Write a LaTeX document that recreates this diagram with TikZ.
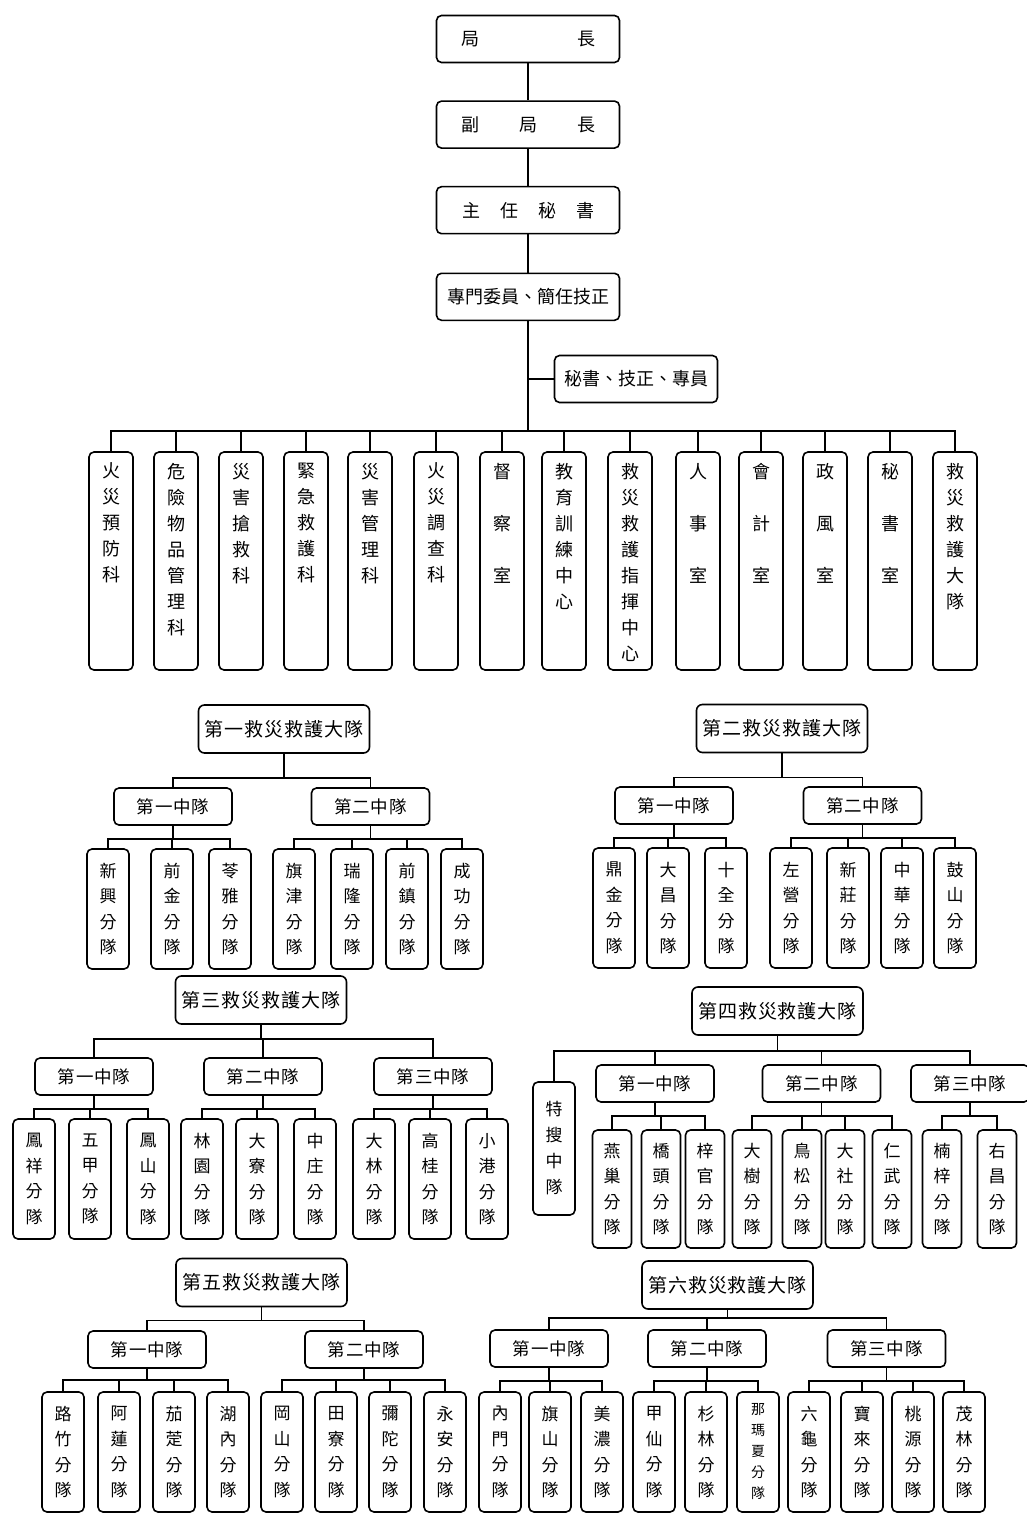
\documentclass[tikz,border=0pt]{standalone}
\usepackage{fontspec}
\setmainfont{Noto Sans CJK TC}
\newfontfamily\cjkwide[LetterSpace=5]{Noto Sans CJK TC}
\newfontfamily\cjkmid[LetterSpace=4]{Noto Sans CJK TC}
\usepackage{tikz}
\usetikzlibrary{positioning}
\newcommand{\deptcol}[1]{\parbox[c][218pt][t]{40pt}{\centering\vspace*{11pt}#1}}
\tikzset{
  headbox/.style={draw=black, line width=1.6pt, rounded corners=5pt, inner sep=0pt, minimum width=183pt, minimum height=47pt, font=\fontsize{18}{22}\selectfont},
  deptbox/.style={draw=black, line width=1.6pt, rounded corners=5pt, inner sep=0pt, minimum width=44pt, font=\fontsize{18}{26}\selectfont},
  teambox/.style={draw=black, line width=1.6pt, rounded corners=6pt, inner sep=0pt, minimum width=171pt, minimum height=48pt, font=\cjkwide\fontsize{19}{22}\selectfont},
  squadbox/.style={draw=black, line width=1.6pt, rounded corners=5pt, inner sep=0pt, minimum width=118pt, minimum height=37pt, font=\cjkmid\fontsize{17.5}{20}\selectfont},
  unitbox/.style={draw=black, line width=1.6pt, rounded corners=5pt, inner sep=0pt, minimum width=42pt, minimum height=120pt, align=center, font=\fontsize{17}{25.5}\selectfont},
  link/.style={line width=1.5pt}
}
\begin{document}
\begin{tikzpicture}[x=1pt,y=-1pt]
\useasboundingbox (0,0) rectangle (1027,1514);
% head office
\node[headbox] (chief) at (528,39) {局\hspace{98pt}長};
\node[headbox, below=37pt of chief] (deputy) {副\hspace{40pt}局\hspace{40pt}長};
\node[headbox, below=37pt of deputy] (secgen) {主\hspace{20pt}任\hspace{20pt}秘\hspace{20pt}書};
\node[headbox, below=38pt of secgen] (counsel) {專門委員、簡任技正};
\node[headbox, minimum width=163pt] (staff) at (636,379) {秘書、技正、專員};
\draw[link] (chief)--(deputy); \draw[link] (deputy)--(secgen); \draw[link] (secgen)--(counsel);
\draw[link] (staff.west) -- (staff.west -| counsel.south);
% divisions and offices
\node[deptbox] (d1) at (111,561) {\deptcol{火\\災\\預\\防\\科}};
\node[deptbox] (d2) at (176,561) {\deptcol{危\\險\\物\\品\\管\\理\\科}};
\node[deptbox] (d3) at (241,561) {\deptcol{災\\害\\搶\\救\\科}};
\node[deptbox] (d4) at (306,561) {\deptcol{緊\\急\\救\\護\\科}};
\node[deptbox] (d5) at (370,561) {\deptcol{災\\害\\管\\理\\科}};
\node[deptbox] (d6) at (436,561) {\deptcol{火\\災\\調\\查\\科}};
\node[deptbox] (d7) at (502,561) {\deptcol{督\\[26pt]察\\[26pt]室}};
\node[deptbox] (d8) at (564,561) {\deptcol{教\\育\\訓\\練\\中\\心}};
\node[deptbox] (d9) at (630,561) {\deptcol{救\\災\\救\\護\\指\\揮\\中\\心}};
\node[deptbox] (d10) at (698,561) {\deptcol{人\\[26pt]事\\[26pt]室}};
\node[deptbox] (d11) at (761,561) {\deptcol{會\\[26pt]計\\[26pt]室}};
\node[deptbox] (d12) at (825,561) {\deptcol{政\\[26pt]風\\[26pt]室}};
\node[deptbox] (d13) at (890,561) {\deptcol{秘\\[26pt]書\\[26pt]室}};
\node[deptbox] (d14) at (955,561) {\deptcol{救\\災\\救\\護\\大\\隊}};
\draw[link] (counsel.south) -- ++(0,110) -| (d1.north) (counsel.south) -- ++(0,110) -| (d2.north)
  (counsel.south) -- ++(0,110) -| (d3.north) (counsel.south) -- ++(0,110) -| (d4.north)
  (counsel.south) -- ++(0,110) -| (d5.north) (counsel.south) -- ++(0,110) -| (d6.north)
  (counsel.south) -- ++(0,110) -| (d7.north) (counsel.south) -- ++(0,110) -| (d8.north)
  (counsel.south) -- ++(0,110) -| (d9.north) (counsel.south) -- ++(0,110) -| (d10.north)
  (counsel.south) -- ++(0,110) -| (d11.north) (counsel.south) -- ++(0,110) -| (d12.north)
  (counsel.south) -- ++(0,110) -| (d13.north) (counsel.south) -- ++(0,110) -| (d14.north);
% first brigade
\node[teambox] (t1) at (284,729) {第一救災救護大隊};
\node[squadbox] (t1a) at (173,806.5) {第一中隊};
\node[squadbox] (t1b) at (370.5,806.5) {第二中隊};
\node[unitbox] (t1a1) at (108,909) {新\\興\\分\\隊};
\node[unitbox] (t1a2) at (172,909) {前\\金\\分\\隊};
\node[unitbox] (t1a3) at (230,909) {苓\\雅\\分\\隊};
\node[unitbox] (t1b1) at (294,909) {旗\\津\\分\\隊};
\node[unitbox] (t1b2) at (352,909) {瑞\\隆\\分\\隊};
\node[unitbox] (t1b3) at (407,909) {前\\鎮\\分\\隊};
\node[unitbox] (t1b4) at (462,909) {成\\功\\分\\隊};
\draw[link] (t1.south) -- ++(0,24) -| (t1a.north) (t1.south) -- ++(0,24) -| (t1b.north);
\draw[link] (t1a.south) -- ++(0,13) -| (t1a1.north) (t1a.south) -- ++(0,13) -| (t1a2.north) (t1a.south) -- ++(0,13) -| (t1a3.north);
\draw[link] (t1b.south) -- ++(0,13) -| (t1b1.north) (t1b.south) -- ++(0,13) -| (t1b2.north)
  (t1b.south) -- ++(0,13) -| (t1b3.north) (t1b.south) -- ++(0,13) -| (t1b4.north);
% second brigade
\node[teambox] (t2) at (782,728.5) {第二救災救護大隊};
\node[squadbox] (t2a) at (674,805.5) {第一中隊};
\node[squadbox] (t2b) at (862.5,805.5) {第二中隊};
\node[unitbox] (t2a1) at (614,908) {鼎\\金\\分\\隊};
\node[unitbox] (t2a2) at (668,908) {大\\昌\\分\\隊};
\node[unitbox] (t2a3) at (726,908) {十\\全\\分\\隊};
\node[unitbox] (t2b1) at (791,908) {左\\營\\分\\隊};
\node[unitbox] (t2b2) at (848,908) {新\\莊\\分\\隊};
\node[unitbox] (t2b3) at (902,908) {中\\華\\分\\隊};
\node[unitbox] (t2b4) at (955,908) {鼓\\山\\分\\隊};
\draw[link] (t2.south) -- ++(0,24) -| (t2a.north) (t2.south) -- ++(0,24) -| (t2b.north);
\draw[link] (t2a.south) -- ++(0,13) -| (t2a1.north) (t2a.south) -- ++(0,13) -| (t2a2.north) (t2a.south) -- ++(0,13) -| (t2a3.north);
\draw[link] (t2b.south) -- ++(0,13) -| (t2b1.north) (t2b.south) -- ++(0,13) -| (t2b2.north)
  (t2b.south) -- ++(0,13) -| (t2b3.north) (t2b.south) -- ++(0,13) -| (t2b4.north);
% third brigade
\node[teambox] (t3) at (261,1000) {第三救災救護大隊};
\node[squadbox] (t3a) at (94,1076.5) {第一中隊};
\node[squadbox] (t3b) at (263,1076.5) {第二中隊};
\node[squadbox] (t3c) at (433,1076.5) {第三中隊};
\node[unitbox] (t3a1) at (34,1179) {鳳\\祥\\分\\隊};
\node[unitbox] (t3a2) at (90,1179) {五\\甲\\分\\隊};
\node[unitbox] (t3a3) at (148,1179) {鳳\\山\\分\\隊};
\node[unitbox] (t3b1) at (202,1179) {林\\園\\分\\隊};
\node[unitbox] (t3b2) at (257,1179) {大\\寮\\分\\隊};
\node[unitbox] (t3b3) at (315,1179) {中\\庄\\分\\隊};
\node[unitbox] (t3c1) at (374,1179) {大\\林\\分\\隊};
\node[unitbox] (t3c2) at (430,1179) {高\\桂\\分\\隊};
\node[unitbox] (t3c3) at (487,1179) {小\\港\\分\\隊};
\draw[link] (t3.south) -- ++(0,14) -| (t3a.north) (t3.south) -- ++(0,14) -| (t3b.north) (t3.south) -- ++(0,14) -| (t3c.north);
\draw[link] (t3a.south) -- ++(0,13) -| (t3a1.north) (t3a.south) -- ++(0,13) -| (t3a2.north) (t3a.south) -- ++(0,13) -| (t3a3.north);
\draw[link] (t3b.south) -- ++(0,13) -| (t3b1.north) (t3b.south) -- ++(0,13) -| (t3b2.north) (t3b.south) -- ++(0,13) -| (t3b3.north);
\draw[link] (t3c.south) -- ++(0,13) -| (t3c1.north) (t3c.south) -- ++(0,13) -| (t3c2.north) (t3c.south) -- ++(0,13) -| (t3c3.north);
% fourth brigade
\node[teambox] (t4) at (777.5,1011) {第四救災救護大隊};
\node[unitbox, minimum height=133pt, font=\fontsize{17}{26}\selectfont] (t4x) at (554,1148.5) {特\\搜\\中\\隊};
\node[squadbox] (t4a) at (655,1083.5) {第一中隊};
\node[squadbox] (t4b) at (821.5,1083.5) {第二中隊};
\node[squadbox] (t4c) at (970,1083.5) {第三中隊};
\begin{scope}[unitbox/.append style={minimum width=39pt, minimum height=118pt}]
\node[unitbox] (t4a1) at (612,1189) {燕\\巢\\分\\隊};
\node[unitbox] (t4a2) at (661,1189) {橋\\頭\\分\\隊};
\node[unitbox] (t4a3) at (705,1189) {梓\\官\\分\\隊};
\node[unitbox] (t4b1) at (752,1189) {大\\樹\\分\\隊};
\node[unitbox] (t4b2) at (802,1189) {鳥\\松\\分\\隊};
\node[unitbox] (t4b3) at (845,1189) {大\\社\\分\\隊};
\node[unitbox] (t4b4) at (892,1189) {仁\\武\\分\\隊};
\node[unitbox] (t4c1) at (942,1189) {楠\\梓\\分\\隊};
\node[unitbox] (t4c2) at (997,1189) {右\\昌\\分\\隊};
\end{scope}
\draw[link] (t4.south) -- ++(0,15) -| (t4x.north) (t4.south) -- ++(0,15) -| (t4a.north)
  (t4.south) -- ++(0,15) -| (t4b.north) (t4.south) -- ++(0,15) -| (t4c.north);
\draw[link] (t4a.south) -- ++(0,13) -| (t4a1.north) (t4a.south) -- ++(0,13) -| (t4a2.north) (t4a.south) -- ++(0,13) -| (t4a3.north);
\draw[link] (t4b.south) -- ++(0,13) -| (t4b1.north) (t4b.south) -- ++(0,13) -| (t4b2.north)
  (t4b.south) -- ++(0,13) -| (t4b3.north) (t4b.south) -- ++(0,13) -| (t4b4.north);
\draw[link] (t4c.south) -- ++(0,13) -| (t4c1.north) (t4c.south) -- ++(0,13) -| (t4c2.north);
% fifth brigade
\node[teambox] (t5) at (261.5,1282.5) {第五救災救護大隊};
\node[squadbox] (t5a) at (147,1349.5) {第一中隊};
\node[squadbox] (t5b) at (364,1349.5) {第二中隊};
\node[unitbox] (t5a1) at (63,1452) {路\\竹\\分\\隊};
\node[unitbox] (t5a2) at (119,1452) {阿\\蓮\\分\\隊};
\node[unitbox] (t5a3) at (174,1452) {茄\\萣\\分\\隊};
\node[unitbox] (t5a4) at (228,1452) {湖\\內\\分\\隊};
\node[unitbox] (t5b1) at (282,1452) {岡\\山\\分\\隊};
\node[unitbox] (t5b2) at (336,1452) {田\\寮\\分\\隊};
\node[unitbox] (t5b3) at (390,1452) {彌\\陀\\分\\隊};
\node[unitbox] (t5b4) at (445,1452) {永\\安\\分\\隊};
\draw[link] (t5.south) -- ++(0,13) -| (t5a.north) (t5.south) -- ++(0,13) -| (t5b.north);
\draw[link] (t5a.south) -- ++(0,11) -| (t5a1.north) (t5a.south) -- ++(0,11) -| (t5a2.north)
  (t5a.south) -- ++(0,11) -| (t5a3.north) (t5a.south) -- ++(0,11) -| (t5a4.north);
\draw[link] (t5b.south) -- ++(0,11) -| (t5b1.north) (t5b.south) -- ++(0,11) -| (t5b2.north)
  (t5b.south) -- ++(0,11) -| (t5b3.north) (t5b.south) -- ++(0,11) -| (t5b4.north);
% sixth brigade
\node[teambox] (t6) at (727.5,1285) {第六救災救護大隊};
\node[squadbox] (t6a) at (549,1348.5) {第一中隊};
\node[squadbox] (t6b) at (707,1348.5) {第二中隊};
\node[squadbox] (t6c) at (886.5,1348.5) {第三中隊};
\node[unitbox] (t6a1) at (500,1452) {內\\門\\分\\隊};
\node[unitbox] (t6a2) at (550,1452) {旗\\山\\分\\隊};
\node[unitbox] (t6a3) at (602,1452) {美\\濃\\分\\隊};
\node[unitbox] (t6b1) at (654,1452) {甲\\仙\\分\\隊};
\node[unitbox] (t6b2) at (706,1452) {杉\\林\\分\\隊};
\node[unitbox, font=\fontsize{14}{21}\selectfont] (t6b3) at (758,1452) {那\\瑪\\夏\\分\\隊};
\node[unitbox] (t6c1) at (809,1452) {六\\龜\\分\\隊};
\node[unitbox] (t6c2) at (862,1452) {寶\\來\\分\\隊};
\node[unitbox] (t6c3) at (913,1452) {桃\\源\\分\\隊};
\node[unitbox] (t6c4) at (964,1452) {茂\\林\\分\\隊};
\draw[link] (t6.south) -- ++(0,8) -| (t6a.north) (t6.south) -- ++(0,8) -| (t6b.north) (t6.south) -- ++(0,8) -| (t6c.north);
\draw[link] (t6a.south) -- ++(0,13) -| (t6a1.north) (t6a.south) -- ++(0,13) -| (t6a2.north) (t6a.south) -- ++(0,13) -| (t6a3.north);
\draw[link] (t6b.south) -- ++(0,13) -| (t6b1.north) (t6b.south) -- ++(0,13) -| (t6b2.north) (t6b.south) -- ++(0,13) -| (t6b3.north);
\draw[link] (t6c.south) -- ++(0,13) -| (t6c1.north) (t6c.south) -- ++(0,13) -| (t6c2.north)
  (t6c.south) -- ++(0,13) -| (t6c3.north) (t6c.south) -- ++(0,13) -| (t6c4.north);
\end{tikzpicture}
\end{document}
